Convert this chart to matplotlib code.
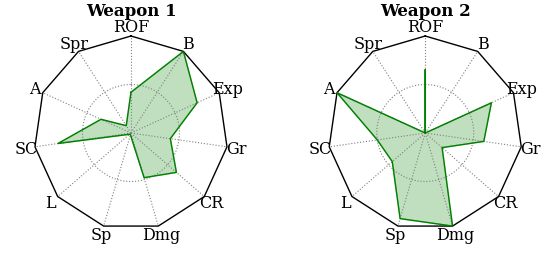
import numpy as np
import matplotlib
matplotlib.use("Agg")
import matplotlib.pyplot as plt

plt.rcParams["font.family"] = "DejaVu Serif"

labels = ["ROF", "B", "Exp", "Gr", "CR", "Dmg", "Sp", "L", "SC", "A", "Spr"]
weapon1 = [0.42, 1.0, 0.75, 0.41, 0.62, 0.48, 0.02, 0.02, 0.76, 0.34, 0.09]
weapon2 = [0.65, 0.0, 0.75, 0.61, 0.23, 1.0, 0.92, 0.45, 0.5, 1.0, 0.0]
titles = ["Weapon 1", "Weapon 2"]


def radar(ax, values, title):
    n = len(labels)
    theta = np.linspace(0, 2 * np.pi, n, endpoint=False)
    ax.set_theta_zero_location("N")
    ax.set_theta_direction(-1)
    ax.set_ylim(0, 1)
    ax.spines["polar"].set_visible(False)

    # polygon frame
    t = np.append(theta, theta[0])
    ax.plot(t, np.ones_like(t), color="black", lw=1, clip_on=False)

    ax.set_rgrids([0.5], labels=[""])
    ax.set_thetagrids(np.degrees(theta), labels, fontsize=11.5)
    ax.tick_params(axis="x", pad=-4)
    ax.grid(True, color="gray", linestyle=":", lw=0.8)

    v = np.append(values, values[0])
    ax.plot(t, v, color="green", lw=1)
    ax.fill(t, v, color="green", alpha=0.25)
    ax.set_title(title, fontweight="bold", fontsize=12, y=1.11, pad=0)


fig = plt.figure(figsize=(5.48, 2.55), dpi=100)
ax1 = fig.add_axes([0.062, 0.094, 0.354, 0.761], projection="polar")
ax2 = fig.add_axes([0.599, 0.094, 0.354, 0.761], projection="polar")
radar(ax1, weapon1, titles[0])
radar(ax2, weapon2, titles[1])

fig.savefig("out.png", dpi=100)
